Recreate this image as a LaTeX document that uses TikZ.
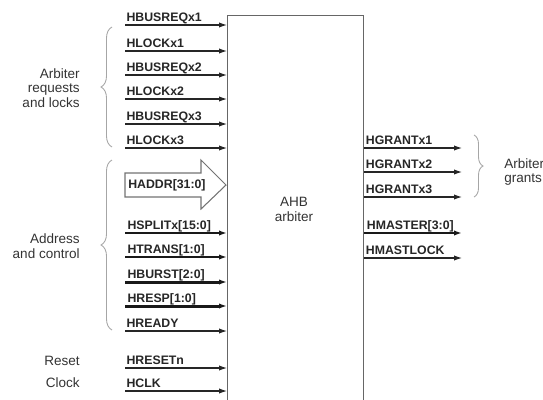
\documentclass[tikz,border=0pt]{standalone}
\usepackage{fontspec}
\setmainfont{Liberation Sans}
\usetikzlibrary{arrows.meta,decorations.pathreplacing}

\begin{document}
\begin{tikzpicture}[x=0.02cm, y=-0.02cm,
    >={Latex[length=4.5pt, width=3pt]},
    sig/.style={->, line width=0.6pt, draw=black!85},
    bus/.style={->, line width=1.7pt, draw=black!90},
    lbl/.style={anchor=base west, yshift=1.8pt, inner sep=0.6pt, text=black!85,
      font=\bfseries\fontsize{7}{8}\selectfont},
    grp/.style={anchor=east, align=right, inner sep=0pt, text=black!80,
      font=\fontsize{7.7}{8.3}\selectfont},
    brc/.style={decorate, draw=gray!70, line width=0.5pt}]
  % Cornice
  \clip (0,0) rectangle (543,399);

  % Blocco arbitro
  \node[draw=black!60, line width=0.8pt, anchor=north west, inner sep=0pt,
    minimum width=2.72cm, minimum height=8.4cm] (arb) at (227,15) {};
  \node[align=center, inner sep=0pt, text=black!80,
    font=\fontsize{7.7}{8.6}\selectfont] (arbtxt) at (294,209) {AHB\\arbiter};

  % Richieste e lock
  \foreach \y/\txt [count=\i] in {25/HBUSREQx1, 51/HLOCKx1, 75/HBUSREQx2,
      99/HLOCKx2, 124/HBUSREQx3, 148/HLOCKx3, 331/HREADY, 368/HRESETn, 391/HCLK} {
    \coordinate (req\i) at (125,\y);
    \draw[sig] (req\i) node[lbl] (reql\i) {\txt} -- (req\i -| arb.west);
  }
  % Bus di ingresso
  \foreach \y/\txt [count=\i] in {233/{HSPLITx[15:0]}, 257/{HTRANS[1:0]},
      282/{HBURST[2:0]}, 306/{HRESP[1:0]}} {
    \coordinate (bus\i) at (125,\y);
    \draw[bus] (bus\i) node[lbl] (busl\i) {\txt} -- (bus\i -| arb.west);
  }
  % Freccia larga indirizzo
  \draw[draw=black!55, fill=white, line width=0.6pt]
    (125,173) -- (201,173) -- (201,160) -- (226,185) -- (201,209)
    -- (201,197) -- (125,197) -- cycle;
  \node[anchor=west, inner sep=0pt, text=black!85,
    font=\bfseries\fontsize{7}{8}\selectfont] (haddr) at (128,185) {HADDR[31:0]};

  % Uscite
  \foreach \y/\txt [count=\i] in {148/HGRANTx1, 172/HGRANTx2, 197/HGRANTx3,
      258/HMASTLOCK} {
    \coordinate (gnt\i) at (462,\y);
    \draw[sig] (gnt\i -| arb.east) node[lbl] (gntl\i) {\txt} -- (gnt\i);
  }
  \coordinate (mst) at (462,233);
  \draw[bus] (mst -| arb.east) node[lbl] (mstl) {HMASTER[3:0]} -- (mst);

  % Graffe
  \draw[brc, decoration={brace, amplitude=0.22cm}] (112,147) -- (112,27);
  \draw[brc, decoration={brace, amplitude=0.22cm}] (112,330) -- (112,160);
  \draw[brc, decoration={brace, amplitude=0.18cm}] (474,135) -- (474,197);

  % Etichette dei gruppi
  \node[grp] (grpreq) at (80,88) {Arbiter\\requests\\and locks};
  \node[grp] (grpaddr) at (80,246) {Address\\and control};
  \node[grp] (grprst) at (80,361) {Reset};
  \node[grp] (grpclk) at (80,383) {Clock};
  \node[grp, anchor=west, align=left] (grpgnt) at (504,172) {Arbiter\\grants};
\end{tikzpicture}
\end{document}
